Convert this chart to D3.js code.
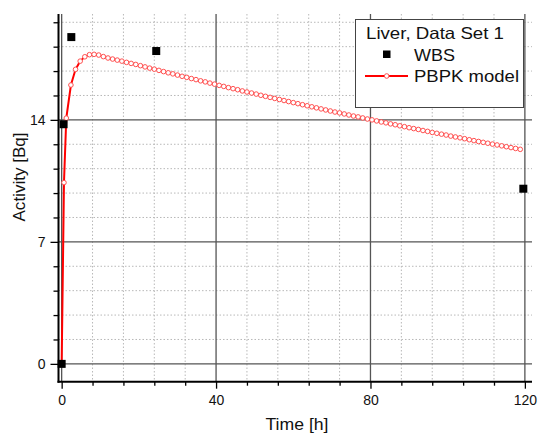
<!DOCTYPE html>
<html>
<head>
<meta charset="utf-8">
<script src="https://cdn.jsdelivr.net/npm/d3@7"></script>
<style>
  html, body { margin: 0; padding: 0; background: #fff; }
  svg { display: block; font-family: Arial, "Liberation Sans", sans-serif; }
</style>
</head>
<body>
<svg id="chart" width="539" height="434"></svg>
<script>
// ---------- data ----------
const wbsTime = [0, 0.5, 2.5, 24.5, 119.6];
const wbsActivity = [0, 13.75, 18.75, 17.95, 10.05];

const modelTime = [0, 0.6, 1.2, 2.4, 3.6, 4.8, 6.0, 7.2, 8.4, 9.6, 10.8, 12.0,
  13.2, 14.4, 15.6, 16.8, 18.0, 19.2, 20.4, 21.6, 22.8, 24.0, 25.2, 26.4, 27.6, 28.8,
  30.0, 31.2, 32.4, 33.6, 34.8, 36.0, 37.2, 38.4, 39.6, 40.8, 42.0, 43.2, 44.4, 45.6,
  46.8, 48.0, 49.2, 50.4, 51.6, 52.8, 54.0, 55.2, 56.4, 57.6, 58.8, 60.0, 61.2, 62.4,
  63.6, 64.8, 66.0, 67.2, 68.4, 69.6, 70.8, 72.0, 73.2, 74.4, 75.6, 76.8, 78.0, 79.2,
  80.4, 81.6, 82.8, 84.0, 85.2, 86.4, 87.6, 88.8, 90.0, 91.2, 92.4, 93.6, 94.8, 96.0,
  97.2, 98.4, 99.6, 100.8, 102.0, 103.2, 104.4, 105.6, 106.8, 108.0, 109.2, 110.4,
  111.6, 112.8, 114.0, 115.2, 116.4, 117.6, 118.8];
const modelActivity = [0, 10.4, 14.1, 16.0, 16.9, 17.37, 17.62, 17.74, 17.76, 17.72, 17.63, 17.55,
  17.49, 17.43, 17.37, 17.30, 17.24, 17.18, 17.11, 17.04, 16.97, 16.91, 16.84, 16.77, 16.70, 16.64,
  16.57, 16.50, 16.44, 16.37, 16.31, 16.24, 16.18, 16.11, 16.05, 15.98, 15.92, 15.85, 15.79, 15.73,
  15.66, 15.60, 15.54, 15.48, 15.41, 15.35, 15.29, 15.23, 15.17, 15.11, 15.05, 14.99, 14.93, 14.87,
  14.81, 14.75, 14.69, 14.63, 14.57, 14.51, 14.45, 14.40, 14.34, 14.28, 14.22, 14.17, 14.11, 14.05,
  14.00, 13.94, 13.88, 13.83, 13.77, 13.72, 13.66, 13.61, 13.55, 13.50, 13.45, 13.39, 13.34, 13.28,
  13.23, 13.18, 13.13, 13.07, 13.02, 12.97, 12.92, 12.86, 12.81, 12.76, 12.71, 12.66,
  12.61, 12.56, 12.51, 12.46, 12.41, 12.36, 12.31];

const xMajorTicks = [0, 40, 80, 120];
const xMinorTicks = [8, 16, 24, 32, 48, 56, 64, 72, 88, 96, 104, 112];
const yMajorTicks = [0, 7, 14];
const yMinorTicks = [1.4, 2.8, 4.2, 5.6, 8.4, 9.8, 11.2, 12.6, 15.4, 16.8, 18.2, 19.6];

const legendTitle = "Liver, Data Set 1";
const seriesNames = ["WBS", "PBPK model"];
const xTitle = "Time [h]";
const yTitle = "Activity [Bq]";

// ---------- scales ----------
const svg = d3.select("#chart");
const x = d3.scaleLinear().domain([-1, 122]).range([57.8, 532.6]);
const y = d3.scaleLinear().domain([-1, 20]).range([381.3, 15.3]);

const pLeft = 58.5, pRight = 532, pTop = 14, pBottom = 381.7;

// ---------- grid ----------
const grid = svg.append("g");
grid.selectAll(".hminor").data(yMinorTicks).enter().append("line")
  .attr("x1", pLeft).attr("x2", pRight)
  .attr("y1", d => y(d)).attr("y2", d => y(d))
  .attr("stroke", "#b8b8b8").attr("stroke-width", 1).attr("stroke-dasharray", "1.5,2");
grid.selectAll(".vminor").data(xMinorTicks).enter().append("line")
  .attr("x1", d => x(d)).attr("x2", d => x(d))
  .attr("y1", pTop).attr("y2", pBottom)
  .attr("stroke", "#b8b8b8").attr("stroke-width", 1).attr("stroke-dasharray", "1.5,2");
grid.selectAll(".hmajor").data(yMajorTicks).enter().append("line")
  .attr("x1", pLeft).attr("x2", pRight)
  .attr("y1", d => y(d)).attr("y2", d => y(d))
  .attr("stroke", "#555").attr("stroke-width", 1.3);
grid.selectAll(".vmajor").data(xMajorTicks).enter().append("line")
  .attr("x1", d => x(d)).attr("x2", d => x(d))
  .attr("y1", pTop).attr("y2", pBottom)
  .attr("stroke", "#555").attr("stroke-width", 1.3);

// ---------- axes ----------
const xAxisMajor = d3.axisBottom(x).tickValues(xMajorTicks).tickSize(7).tickPadding(6).tickFormat(d3.format("d"));
const xAxisMinor = d3.axisBottom(x).tickValues(xMinorTicks).tickSize(4).tickFormat("");
const yAxisMajor = d3.axisLeft(y).tickValues(yMajorTicks).tickSize(8).tickPadding(5).tickFormat(d3.format("d"));
const yAxisMinor = d3.axisLeft(y).tickValues(yMinorTicks).tickSize(5).tickFormat("");

function styleAxis(g) {
  g.select(".domain").remove();
  g.selectAll(".tick line").attr("stroke", "#000").attr("stroke-width", 1.3);
  g.selectAll(".tick text").attr("fill", "#111").style("font-size", "14px")
    .style("font-family", "Arial, 'Liberation Sans', sans-serif");
}
svg.append("g").attr("transform", `translate(0,${pBottom})`).call(xAxisMinor).call(styleAxis);
svg.append("g").attr("transform", `translate(0,${pBottom})`).call(xAxisMajor).call(styleAxis);
svg.append("g").attr("transform", `translate(${pLeft},0)`).call(yAxisMinor).call(styleAxis);
svg.append("g").attr("transform", `translate(${pLeft},0)`).call(yAxisMajor).call(styleAxis);

// axis lines
svg.append("line").attr("x1", pLeft).attr("x2", pLeft).attr("y1", pTop).attr("y2", pBottom + 1)
  .attr("stroke", "#000").attr("stroke-width", 2);
svg.append("line").attr("x1", pLeft - 1).attr("x2", pRight).attr("y1", pBottom).attr("y2", pBottom)
  .attr("stroke", "#000").attr("stroke-width", 2);

// axis titles
svg.append("text").attr("x", 297).attr("y", 430).attr("text-anchor", "middle")
  .style("font-size", "16.5px").attr("fill", "#111")
  .attr("textLength", 63).attr("lengthAdjust", "spacingAndGlyphs").text(xTitle);
svg.append("text").attr("transform", "translate(25,177) rotate(-90)").attr("text-anchor", "middle")
  .style("font-size", "16.5px").attr("fill", "#111")
  .attr("textLength", 89).attr("lengthAdjust", "spacingAndGlyphs").text(yTitle);

// ---------- model ----------
const model = modelTime.map((t, i) => ({ t, v: modelActivity[i] }));
const line = d3.line().x(d => x(d.t)).y(d => y(d.v));
svg.append("path").datum(model).attr("d", line)
  .attr("fill", "none").attr("stroke", "#ff0000").attr("stroke-width", 2);
svg.selectAll(".mc").data(model.slice(1)).enter().append("circle")
  .attr("cx", d => x(d.t)).attr("cy", d => y(d.v)).attr("r", 2.3)
  .attr("fill", "#fff").attr("stroke", "#ff5050").attr("stroke-width", 1);

// ---------- WBS ----------
const wbs = wbsTime.map((t, i) => ({ t, v: wbsActivity[i] }));
svg.selectAll(".wbs").data(wbs).enter().append("rect")
  .attr("x", d => x(d.t) - 4).attr("y", d => y(d.v) - 4)
  .attr("width", 8).attr("height", 8).attr("fill", "#000");

// ---------- legend ----------
const lg = svg.append("g");
lg.append("rect").attr("x", 355.5).attr("y", 19.5).attr("width", 168).attr("height", 88)
  .attr("fill", "#fff").attr("stroke", "#444").attr("stroke-width", 1);
lg.append("text").attr("x", 366).attr("y", 39).style("font-size", "16.5px").attr("fill", "#111")
  .attr("textLength", 138).attr("lengthAdjust", "spacingAndGlyphs").text(legendTitle);
lg.append("rect").attr("x", 383).attr("y", 50.5).attr("width", 7.5).attr("height", 7.5).attr("fill", "#000");
lg.append("text").attr("x", 414).attr("y", 61).style("font-size", "16.5px").attr("fill", "#111")
  .attr("textLength", 41).attr("lengthAdjust", "spacingAndGlyphs").text(seriesNames[0]);
lg.append("line").attr("x1", 365).attr("x2", 408).attr("y1", 76).attr("y2", 76)
  .attr("stroke", "#ff0000").attr("stroke-width", 2);
lg.append("circle").attr("cx", 386.7).attr("cy", 76).attr("r", 2.3)
  .attr("fill", "#fff").attr("stroke", "#ff5050").attr("stroke-width", 1);
lg.append("text").attr("x", 414).attr("y", 82).style("font-size", "16.5px").attr("fill", "#111")
  .attr("textLength", 105).attr("lengthAdjust", "spacingAndGlyphs").text(seriesNames[1]);
</script>
</body>
</html>
